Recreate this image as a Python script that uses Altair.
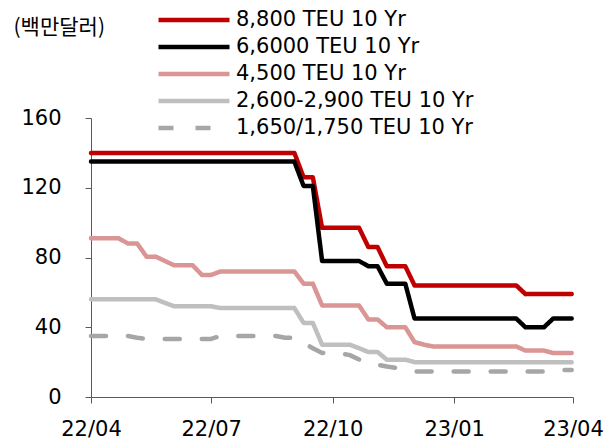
import altair as alt
import pandas as pd

# weekly observations, 2022-04-01 .. 2023-03-31
dates = pd.date_range("2022-04-01", periods=53, freq="7D").strftime("%Y-%m-%d").tolist()

series_names = [
    "8,800 TEU 10 Yr",
    "6,6000 TEU 10 Yr",
    "4,500 TEU 10 Yr",
    "2,600-2,900 TEU 10 Yr",
    "1,650/1,750 TEU 10 Yr",
]
series_colors = ["#c00000", "#000000", "#da9694", "#bfbfbf", "#a6a6a6"]
series_dashes = [[1, 0], [1, 0], [1, 0], [1, 0], [15, 22]]

teu_8800 = [140] * 23 + [126] * 2 + [97] * 5 + [86] * 2 + [75] * 3 + [64] * 12 + [59] * 6
teu_6600 = [135] * 23 + [121] * 2 + [78] * 5 + [75] * 2 + [65] * 3 + [45] * 12 + [40] * 3 + [45] * 3
teu_4500 = ([91] * 4 + [88] * 2 + [80.5] * 2 + [78] + [75.5] * 3 + [70] * 2 + [72] * 9
            + [65] * 2 + [52.5] * 5 + [44.5] * 2 + [40] * 3 + [31.5] + [30] + [29] * 10
            + [26.6] * 3 + [25.2] * 3)
teu_2600 = ([56] * 8 + [54] + [52] * 5 + [51] * 9 + [42.5] * 2 + [30] * 4 + [28]
            + [25.8] * 2 + [21.4] * 3 + [20] * 18)
teu_1650 = ([35] * 5 + [34] + [33.3] * 8 + [35] * 7 + [34] * 2 + [31, 28, 25.3, 25, 25, 24,
            21.5, 19.5, 18.5, 17.5, 16.7, 15.5] + [14.6] * 16 + [15.5] * 2)

x_ticks = [(2022, 4), (2022, 7), (2022, 10), (2023, 1), (2023, 4)]
y_ticks = [0, 40, 80, 120, 160]

rows = []
for name, vals in zip(series_names, [teu_8800, teu_6600, teu_4500, teu_2600, teu_1650]):
    for d, v in zip(dates, vals):
        rows.append({"date": d, "value": v, "series": name})
df = pd.DataFrame(rows)

FONT = "DejaVu Sans"
FS = 21
AX = "#595959"

chart = alt.Chart(df).mark_line(strokeWidth=4.5, strokeCap="round", strokeJoin="round").encode(
    x=alt.X(
        "date:T",
        scale=alt.Scale(domain=[alt.DateTime(year=2022, month=4, date=1, utc=True),
                                alt.DateTime(year=2023, month=4, date=1, utc=True)]),
        axis=alt.Axis(
            values=[alt.DateTime(year=y, month=m, date=1, utc=True) for y, m in x_ticks],
            labelExpr="utcFormat(datum.value, '%y/%m')",
            title=None, grid=False, tickSize=6, labelPadding=15,
            labelFont=FONT, labelFontSize=FS, labelColor="#000000",
            labelFlush=False, labelOverlap=False,
            domainColor=AX, tickColor=AX, labelBaseline="top",
        ),
    ),
    y=alt.Y(
        "value:Q",
        scale=alt.Scale(domain=[0, 160]),
        axis=alt.Axis(
            values=y_ticks, grid=False, tickSize=6, labelPadding=24,
            labelFont=FONT, labelFontSize=FS, labelColor="#000000",
            labelFlush=False, labelOverlap=False,
            domainColor=AX, tickColor=AX,
            title="(백만달러)", titleAngle=0, titleX=-78, titleY=-91,
            titleAlign="left", titleBaseline="middle",
            titleFont="Noto Sans CJK KR", titleFontSize=FS, titleFontWeight="normal",
            titleColor="#000000",
        ),
    ),
    color=alt.Color("series:N", scale=alt.Scale(domain=series_names, range=series_colors), title=None),
    strokeDash=alt.StrokeDash("series:N", scale=alt.Scale(domain=series_names, range=series_dashes), title=None),
).properties(
    width=482,
    height=279,
    autosize=alt.AutoSizeParams(type="none"),
    padding={"left": 83, "top": 110, "right": 34, "bottom": 44},
).configure_view(
    stroke=None
).configure_legend(
    orient="none",
    legendX=65,
    legendY=-108,
    padding=0,
    symbolType="stroke",
    symbolSize=5041,
    symbolStrokeWidth=4.5,
    clipHeight=20,
    rowPadding=6,
    labelOffset=4,
    labelFont=FONT,
    labelFontSize=FS,
    labelColor="#000000",
    labelLimit=400,
)

chart.save("out.html", embed_options={"renderer": "svg", "actions": False})
